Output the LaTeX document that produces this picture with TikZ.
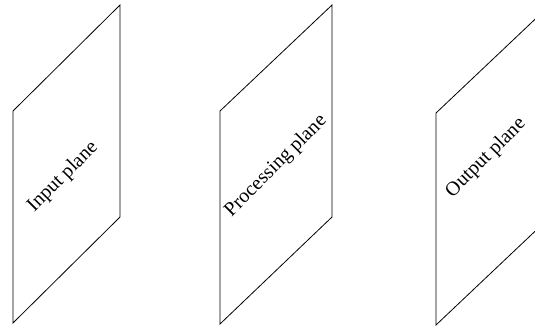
\documentclass[tikz,border=0pt]{standalone}
\usepackage{fontspec}
\setmainfont{Liberation Serif}
\begin{document}
\begin{tikzpicture}[x=1pt,y=-1pt,
  plane/.style={draw=black,line width=0.8pt,line join=miter},
  lbl/.style={rotate=45,font=\fontsize{20}{24}\selectfont,inner sep=0pt}]
\useasboundingbox (0,0) rectangle (535,327);
\clip (0,0) rectangle (535,327);
\draw[plane] (13,111) -- (120,5) -- (120,217) -- (13,323) -- cycle;
\draw[plane] (220,111) -- (332,5) -- (332,217) -- (220,324) -- cycle;
\draw[plane] (436,113) -- (548,7) -- (548,219) -- (436,325) -- cycle;
\node[lbl] (in) at (63,177) {Input plane};
\node[lbl] (pr) at (276,166) {Processing plane};
\node[lbl] (out) at (486,158) {Output plane};
\end{tikzpicture}
\end{document}
